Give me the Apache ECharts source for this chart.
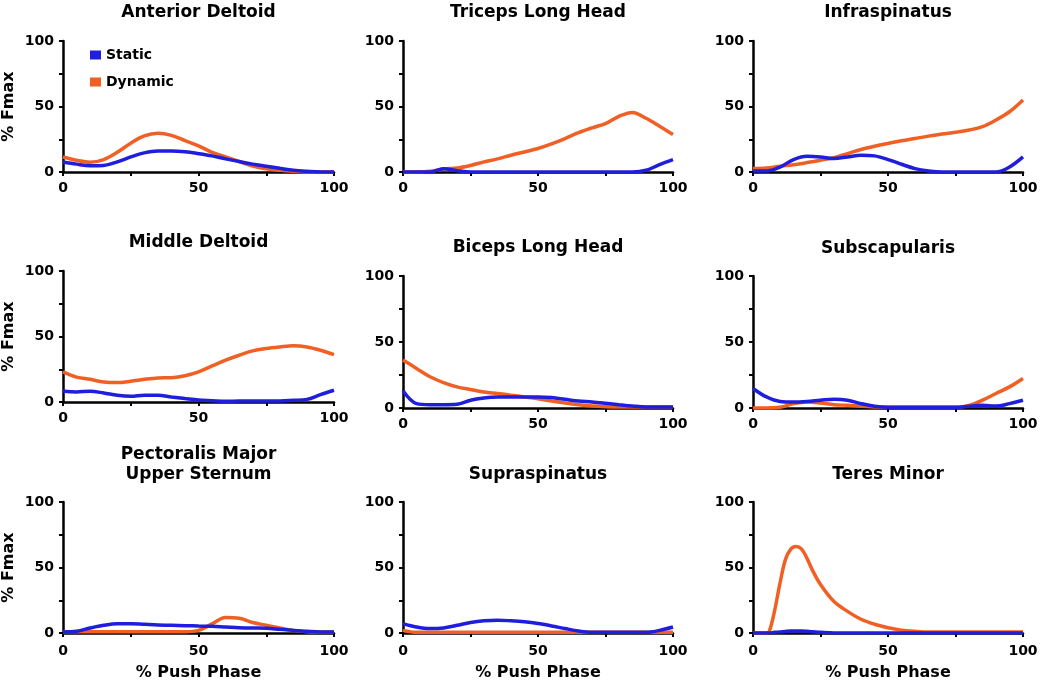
<!DOCTYPE html>
<html>
<head>
<meta charset="utf-8">
<script src="https://cdn.jsdelivr.net/npm/echarts@6/dist/echarts.min.js"></script>
<style>html,body{margin:0;padding:0;background:#fff}#c{width:1050px;height:688px}</style>
</head>
<body>
<div id="c"></div>
<script>
// ---- data ----
const X = [0,5,10,15,20,25,30,35,40,45,50,55,60,65,70,75,80,85,90,95,100];
const teresX = [0,5,6,8,10,12,14,16,18,20,22,25,30,35,40,45,50,55,60,65,70,75,80,85,90,95,100];

const titles = ['Anterior Deltoid','Triceps Long Head','Infraspinatus','Middle Deltoid','Biceps Long Head','Subscapularis','Pectoralis Major\nUpper Sternum','Supraspinatus','Teres Minor'];

const antStatic  = [7.7,6,4.8,5,7.7,11.5,14.6,16,16,15.4,14,12.3,10,8,6,4.4,2.8,1.3,0.5,0,0];
const antDynamic = [11.5,9,7.5,9.5,15,22,27.5,29.5,28,24,20,15,11.5,8,4.6,2.5,1.3,0.5,0,0,0];
const triStatic  = [0,0,0,2.5,1,0,0,0,0,0,0,0,0,0,0,0,0,0,1.3,5.6,9.4];
const triDynamic = [0,0,0.5,2.3,3,5,7.7,10,12.8,15.3,17.9,21.4,25.5,30,33.7,37,42.5,45.5,41,35,28.6];
const infStatic  = [0.8,0.8,3.8,9.5,12,11.5,10.3,11.5,12.8,12.3,9.5,5.9,2.6,0.8,0,0,0,0,0,3.8,11.5];
const infDynamic = [2.6,3,4.4,5.6,7.2,9,11,14,17.2,19.7,21.8,23.8,25.6,27.4,29,30.3,32,34.6,39.7,46,55];
const midStatic  = [8.4,7.7,8.2,6.9,5.1,4.3,5.1,5.1,3.8,2.6,1.5,1,0.5,0.8,0.8,0.8,0.8,1.3,2,5.6,9];
const midDynamic = [23,19,17.3,15.3,14.8,15.8,17.3,18.4,18.6,20,23,27.5,31.9,35.7,39,40.8,42,42.9,42,39.5,36.2];
const bicStatic  = [13,3.3,2.5,2.5,2.8,5.9,7.6,8.4,8.4,8.4,8.4,7.9,6.6,5.3,4.6,3.6,2.5,1.5,0.8,0.8,0.8];
const bicDynamic = [36.4,30,23.7,19.3,16,14,12.2,11,9.7,8.4,7,5.3,3.8,2.5,1.5,1,0.8,0.8,0.8,0.8,0.8];
const subStatic  = [14.8,8.4,5,4.6,5,5.9,6.6,5.9,3.3,1.3,0.5,0.5,0.5,0.5,0.5,0.5,1.3,2,1.5,3.3,5.9];
const subDynamic = [0,0,0.5,3.3,4.6,3.8,2.5,2,1.3,0.8,0.5,0.5,0.5,0.5,0.5,0.5,2,5.9,11,16,22.4];
const pecStatic  = [0.8,1.3,3.8,5.9,7.1,7.1,6.6,6.1,5.9,5.6,5.3,5.1,4.6,4.1,3.8,3.6,2.8,2,1.3,0.8,0.8];
const pecDynamic = [1,1,1,1,1,1,1,1,1,1,2,7,11.8,11.3,8,5.9,3.8,2,1,0.8,0.8];
const supStatic  = [7.2,4.6,3.4,3.9,5.9,8,9.3,9.8,9.3,8.5,7.2,5.4,3.4,1.5,0.5,0.5,0.5,0.5,0.5,2,4.6];
const supDynamic = [2,0.5,0.5,0.5,0.5,0.5,0.5,0.5,0.5,0.5,0.5,0.5,0.5,0.5,0.5,0.5,0.5,0.5,0.5,0.5,0.5];
const terStatic  = [0,0,0,0.5,0.8,1.2,1.5,1.5,1.5,1.3,1,0.5,0,0,0,0,0,0,0,0,0,0,0,0,0,0,0];
const terDynamic = [0,0,1,17,38,56,64,66,64,57,48,37,24,16.5,10.5,6.7,4,2.2,1.3,0.8,0.8,0.8,0.8,0.8,0.8,0.8,0.8];

const panels = [
  {s: antStatic, d: antDynamic, xs: X, xd: X},
  {s: triStatic, d: triDynamic, xs: X, xd: X},
  {s: infStatic, d: infDynamic, xs: X, xd: X},
  {s: midStatic, d: midDynamic, xs: X, xd: X},
  {s: bicStatic, d: bicDynamic, xs: X, xd: X},
  {s: subStatic, d: subDynamic, xs: X, xd: X},
  {s: pecStatic, d: pecDynamic, xs: X, xd: X},
  {s: supStatic, d: supDynamic, xs: X, xd: X},
  {s: terStatic, d: terDynamic, xs: teresX, xd: teresX}
];

// ---- layout ----
const FONT = 'DejaVu Sans';
const BLUE = '#1e1edc';
const ORANGE = '#f05f23';
const colLeft = [63, 403, 753];
const colWidth = [271, 270, 270];
const gridTop = [41, 41, 41, 271, 276, 276, 502, 502, 502];
const gridHeight = [131, 131, 131, 131, 132, 132, 131, 131, 131];
const titleCenterY = [13, 13, 13, 243, 248, 249, 465, 475, 475];

const grids = [], xAxes = [], yAxes = [], series = [], titleArr = [];
const pair = (xs, ys) => xs.map((x, i) => [x, ys[i]]);

panels.forEach((p, i) => {
  const col = i % 3, row = Math.floor(i / 3);
  grids.push({left: colLeft[col], width: colWidth[col], top: gridTop[i], height: gridHeight[i]});
  const axisCommon = {
    type: 'value', min: 0, max: 100, interval: 25,
    axisLine: {show: true, lineStyle: {color: '#000', width: 2.5}},
    axisTick: {show: true, length: 4, lineStyle: {color: '#000', width: 2}},
    splitLine: {show: false},
    axisLabel: {
      color: '#000', fontFamily: FONT, fontWeight: 'bold', fontSize: 14,
      formatter: v => (v % 50 === 0 ? String(v) : '')
    }
  };
  xAxes.push(Object.assign({}, axisCommon, {
    gridIndex: i,
    axisLabel: Object.assign({}, axisCommon.axisLabel, {margin: row === 2 ? 11 : 9}),
    name: row === 2 ? '% Push Phase' : '',
    nameLocation: 'middle', nameGap: 32,
    nameTextStyle: {color: '#000', fontFamily: FONT, fontWeight: 'bold', fontSize: 16}
  }));
  yAxes.push(Object.assign({}, axisCommon, {
    gridIndex: i,
    axisLabel: Object.assign({}, axisCommon.axisLabel, {margin: 9}),
    name: col === 0 ? '% Fmax' : '',
    nameLocation: 'middle', nameGap: 46,
    nameTextStyle: {color: '#000', fontFamily: FONT, fontWeight: 'bold', fontSize: 16}
  }));
  series.push({
    name: 'Dynamic', type: 'line', xAxisIndex: i, yAxisIndex: i,
    data: pair(p.xd, p.d), showSymbol: false, smooth: 0.35,
    lineStyle: {color: ORANGE, width: 3.5}, itemStyle: {color: ORANGE}
  });
  series.push({
    name: 'Static', type: 'line', xAxisIndex: i, yAxisIndex: i,
    data: pair(p.xs, p.s), showSymbol: false, smooth: 0.35,
    lineStyle: {color: BLUE, width: 3.5}, itemStyle: {color: BLUE}
  });
  const nLines = titles[i].split('\n').length;
  titleArr.push({
    text: titles[i],
    left: colLeft[col] + colWidth[col] / 2,
    top: titleCenterY[i] - 10,
    textAlign: 'center',
    padding: 0,
    textStyle: {color: '#000', fontFamily: FONT, fontWeight: 'bold', fontSize: 17, lineHeight: 20}
  });
  if (nLines > 1) titleArr[i].top = titleCenterY[i] - 10 * nLines;
});

const chart = echarts.init(document.getElementById('c'), null, {renderer: 'canvas'});
chart.setOption({
  backgroundColor: '#fff',
  animation: false,
  title: titleArr,
  legend: {
    data: ['Static', 'Dynamic'],
    orient: 'vertical', left: 85, top: 43,
    icon: 'rect', itemWidth: 11, itemHeight: 9, itemGap: 13,
    textStyle: {color: '#000', fontFamily: FONT, fontWeight: 'bold', fontSize: 14}
  },
  grid: grids,
  xAxis: xAxes,
  yAxis: yAxes,
  series: series
});
</script>
</body>
</html>
